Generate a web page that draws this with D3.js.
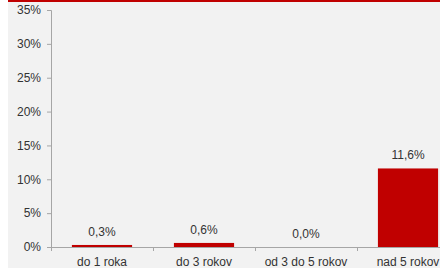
<!DOCTYPE html>
<html>
<head>
<meta charset="utf-8">
<script src="https://cdn.jsdelivr.net/npm/d3@7"></script>
<style>
  html, body { margin: 0; padding: 0; background: #fff; }
  svg { display: block; font-family: "Liberation Sans", Arial, sans-serif; }
</style>
</head>
<body>
<svg id="chart" width="440" height="271"></svg>
<script>
const categories = ['do 1 roka', 'do 3 rokov', 'od 3 do 5 rokov', 'nad 5 rokov'];
const values = [0.3, 0.6, 0.0, 11.6];
const valueLabels = ['0,3%', '0,6%', '0,0%', '11,6%'];
const yTicks = [0, 5, 10, 15, 20, 25, 30, 35];

const svg = d3.select('#chart');
const W = 440, H = 271;

// panel background + red strip on top
svg.append('rect').attr('x', 8).attr('y', 0).attr('width', W - 8).attr('height', 268).attr('fill', '#f2f2f2');
svg.append('rect').attr('x', 8).attr('y', 0).attr('width', W - 8).attr('height', 2).attr('fill', '#c00000');

const plotL = 51, plotR = 459, plotT = 10, plotB = 247;

const x = d3.scaleBand().domain(categories).range([plotL, plotR]).paddingInner(0.41).paddingOuter(0.205);
const y = d3.scaleLinear().domain([0, 35]).range([plotB, plotT]);

const grey = '#a6a6a6';
const textCol = '#333333';
const fs = 12;

// y axis
const yAxis = svg.append('g')
  .attr('transform', `translate(${plotL},0)`)
  .call(d3.axisLeft(y).tickValues(yTicks).tickFormat(d => d + '%').tickSize(4).tickPadding(6));
yAxis.select('.domain').attr('stroke', grey);
yAxis.selectAll('.tick line').attr('stroke', grey);
yAxis.selectAll('.tick text').attr('fill', textCol).attr('font-size', fs)
  .attr('font-family', '"Liberation Sans", Arial, sans-serif');

// bars
svg.append('g').selectAll('rect').data(values).join('rect')
  .attr('x', (d, i) => x(categories[i]))
  .attr('y', d => y(d))
  .attr('width', x.bandwidth())
  .attr('height', d => Math.max(0, plotB - y(d)))
  .attr('fill', '#c00000');

// x axis with ticks at band boundaries
const step = x.step();
const xg = svg.append('g');
xg.append('line').attr('x1', plotL).attr('x2', W).attr('y1', plotB + 0.5).attr('y2', plotB + 0.5).attr('stroke', grey);
xg.selectAll('line.tk').data(categories).join('line').attr('class', 'tk')
  .attr('x1', (d, i) => Math.round(plotL + i * step) + 0.5)
  .attr('x2', (d, i) => Math.round(plotL + i * step) + 0.5)
  .attr('y1', plotB).attr('y2', plotB + 4).attr('stroke', grey);
xg.selectAll('text').data(categories).join('text')
  .attr('x', d => x(d) + x.bandwidth() / 2)
  .attr('y', 266)
  .attr('text-anchor', 'middle')
  .attr('font-size', fs)
  .attr('fill', textCol)
  .text(d => d);

// value labels
svg.append('g').selectAll('text').data(values).join('text')
  .attr('x', (d, i) => x(categories[i]) + x.bandwidth() / 2)
  .attr('y', d => y(d) - 9)
  .attr('text-anchor', 'middle')
  .attr('font-size', fs)
  .attr('fill', textCol)
  .text((d, i) => valueLabels[i]);
</script>
</body>
</html>
